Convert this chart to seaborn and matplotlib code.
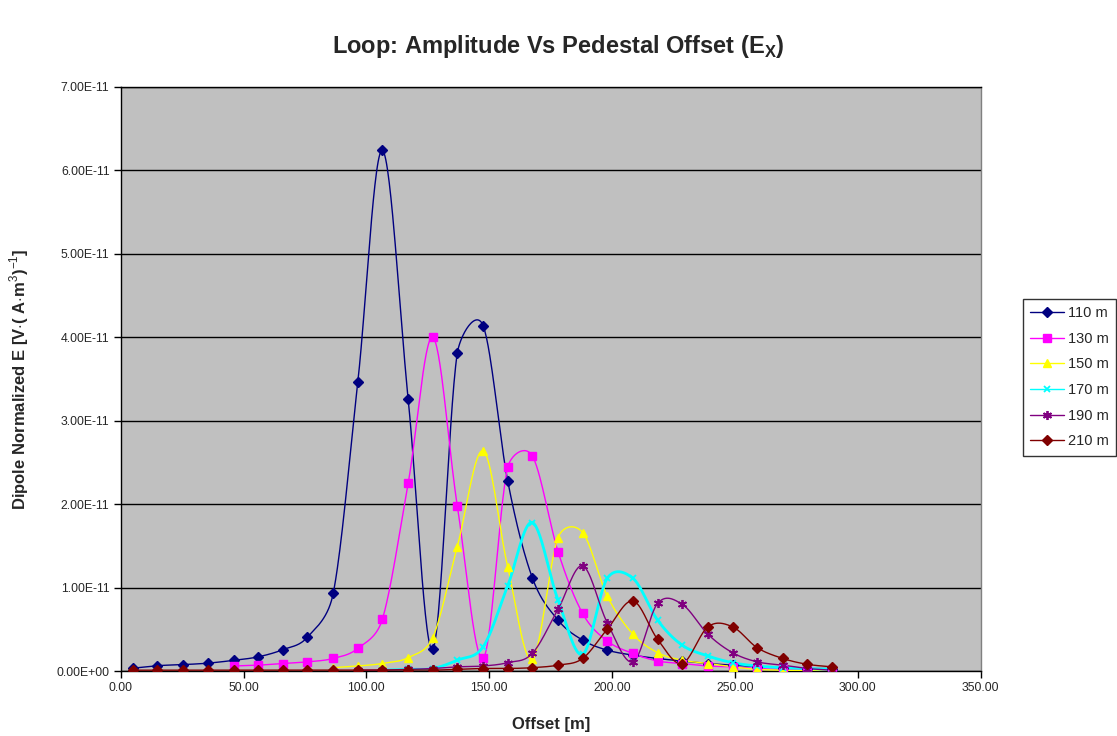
import numpy as np
import pandas as pd
import matplotlib
matplotlib.use("Agg")
import matplotlib.pyplot as plt
from matplotlib.lines import Line2D
from matplotlib.ticker import FuncFormatter, MultipleLocator
import seaborn as sns

nan = np.nan
SCALE = 1e-11

offsets = [5, 15, 25.5, 35.5, 46, 56, 66, 76, 86.5, 96.5, 106.5, 117, 127, 137, 147.5,
           157.5, 167.5, 178, 188, 198, 208.5, 218.5, 228.5, 239, 249, 259, 269.5, 279.5, 289.5]

e_110 = [0.034, 0.064, 0.077, 0.094, 0.128, 0.17, 0.256, 0.405, 0.93, 3.46, 6.24, 3.26, 0.26, 3.81, 4.14,
         2.28, 1.12, 0.61, 0.37, 0.25, 0.19, 0.15, 0.12, 0.09, 0.07, 0.05, 0.04, 0.03, 0.03]
e_130 = [nan, nan, nan, nan, 0.06, 0.07, 0.09, 0.11, 0.15, 0.27, 0.62, 2.25, 4.0, 1.98, 0.15,
         2.44, 2.58, 1.43, 0.69, 0.36, 0.21, 0.12, 0.09, 0.06, 0.05, 0.03, 0.02, 0.01, 0.01]
e_150 = [nan, nan, nan, nan, nan, nan, nan, nan, 0.04, 0.06, 0.09, 0.16, 0.40, 1.49, 2.64,
         1.25, 0.14, 1.60, 1.66, 0.90, 0.44, 0.22, 0.13, 0.09, 0.05, 0.02, 0.01, 0.005, 0.0]
e_170 = [nan, nan, nan, nan, nan, nan, nan, nan, nan, nan, 0.01, 0.02, 0.03, 0.13, 0.29,
         1.02, 1.78, 0.85, 0.20, 1.11, 1.11, 0.61, 0.31, 0.18, 0.10, 0.06, 0.04, 0.03, 0.02]
e_190 = [nan, nan, nan, nan, nan, nan, nan, nan, nan, 0.01, 0.01, 0.02, 0.03, 0.05, 0.06,
         0.10, 0.21, 0.74, 1.26, 0.58, 0.11, 0.81, 0.80, 0.44, 0.22, 0.11, 0.07, 0.03, 0.01]
e_210 = [0.01, 0.01, 0.01, 0.01, 0.01, 0.01, 0.01, 0.01, 0.01, 0.01, 0.01, 0.01, 0.01, 0.02, 0.03,
         0.03, 0.04, 0.07, 0.15, 0.50, 0.84, 0.38, 0.09, 0.53, 0.53, 0.28, 0.15, 0.08, 0.05]

series_labels = ["110 m", "130 m", "150 m", "170 m", "190 m", "210 m"]
series_values = [e_110, e_130, e_150, e_170, e_190, e_210]

colors = ["#000080", "#FF00FF", "#FFFF00", "#00FFFF", "#800080", "#800000"]
markers = ["D", "s", "^", "x", (6, 2, 0), "D"]
msizes = [5, 5.5, 6, 5, 6.5, 5.5]
lwidths = [1.0, 1.0, 1.0, 2.0, 1.0, 1.0]

AX_RECT = [0.108, 0.0883, 0.770, 0.7935]
FIG_W, FIG_H = 11.17, 7.36
X_MAX, Y_MAX = 350, 7e-11


def excel_smooth(x, y, sx, sy, n=30):
    """Excel-style smoothed line: cubic Bezier with tension 1/6, control arms capped in screen space."""
    P = np.column_stack([np.asarray(x) * sx, np.asarray(y) * sy])
    m = len(P)
    out = []
    t = np.linspace(0, 1, n, endpoint=False)[:, None]
    for i in range(m - 1):
        p0 = P[i - 1] if i > 0 else P[i]
        p1 = P[i]
        p2 = P[i + 1]
        p3 = P[i + 2] if i + 2 < m else P[i + 1]
        d02 = np.linalg.norm(p2 - p0)
        d12 = np.linalg.norm(p2 - p1)
        d13 = np.linalg.norm(p3 - p1)
        f0 = 1 / 6 if d02 / 6 < d12 / 2 else (d12 / 2 / d02 if d02 > 0 else 0)
        f1 = 1 / 6 if d13 / 6 < d12 / 2 else (d12 / 2 / d13 if d13 > 0 else 0)
        b1 = p1 + (p2 - p0) * f0
        b2 = p2 - (p3 - p1) * f1
        seg = ((1 - t) ** 3) * p1 + 3 * ((1 - t) ** 2) * t * b1 + 3 * (1 - t) * t ** 2 * b2 + t ** 3 * p2
        out.append(seg)
    out.append(P[-1:])
    S = np.vstack(out)
    return S[:, 0] / sx, S[:, 1] / sy


sns.set_style("white")
plt.rcParams["font.family"] = ["Liberation Sans", "DejaVu Sans"]
plt.rcParams["mathtext.fontset"] = "custom"
plt.rcParams["mathtext.rm"] = "Liberation Sans"
plt.rcParams["mathtext.bf"] = "Liberation Sans:bold"

fig = plt.figure(figsize=(FIG_W, FIG_H), dpi=100)
ax = fig.add_axes(AX_RECT)
ax.set_facecolor("#C0C0C0")

px_x = AX_RECT[2] * FIG_W * 100 / X_MAX
px_y = AX_RECT[3] * FIG_H * 100 / Y_MAX

x_arr = np.array(offsets, dtype=float)
handles = []
for lab, vals, c, mk, ms, lw in zip(series_labels, series_values, colors, markers, msizes, lwidths):
    y = np.array(vals, dtype=float) * SCALE
    ok = ~np.isnan(y)
    sxv, syv = excel_smooth(x_arr[ok], y[ok], px_x, px_y)
    df = pd.DataFrame({"x": sxv, "y": syv})
    sns.lineplot(data=df, x="x", y="y", ax=ax, color=c, lw=lw, sort=False, estimator=None,
                 legend=False, zorder=3)
    line_art = (mk == "x") or isinstance(mk, tuple)
    ax.plot(x_arr[ok], y[ok], ls="none", marker=mk, ms=ms, color=c, mec=c,
            mew=1.3 if line_art else 1.0, zorder=4)
    handles.append(Line2D([0], [0], color=c, lw=1.0, marker=mk, ms=ms, mec=c,
                          mew=1.3 if line_art else 1.0))

ax.set_xlim(0, X_MAX)
ax.set_ylim(0, Y_MAX)
ax.xaxis.set_major_locator(MultipleLocator(50))
ax.yaxis.set_major_locator(MultipleLocator(1e-11))
ax.xaxis.set_major_formatter(FuncFormatter(lambda v, p: f"{v:.2f}"))
ax.yaxis.set_major_formatter(FuncFormatter(lambda v, p: f"{v:.2E}"))
ax.yaxis.get_offset_text().set_visible(False)
ax.grid(axis="y", color="black", lw=1.0)
ax.grid(axis="x", visible=False)
ax.set_axisbelow(True)
for s in ["left", "bottom", "top"]:
    ax.spines[s].set_color("black")
    ax.spines[s].set_linewidth(1.0)
ax.spines["right"].set_color("#808080")
ax.spines["right"].set_linewidth(1.0)
ax.tick_params(axis="both", direction="out", length=5, width=1, color="black", pad=3,
               labelsize=8.8, left=True, bottom=True)

ax.set_xlabel("Offset [m]", fontsize=12, fontweight="bold", va="top")
ax.xaxis.set_label_coords(0.5, -0.078)
ax.set_ylabel(r"Dipole Normalized E [V$\cdot$( A$\cdot$m$^{3}$)$^{-1}$]", fontsize=12, fontweight="bold")
ax.yaxis.set_label_coords(-0.104, 0.5)
fig.suptitle(r"Loop: Amplitude Vs Pedestal Offset (E$_{\mathregular{X}}$)", fontsize=17,
             fontweight="bold", y=0.955)

leg = fig.legend(handles, series_labels, loc="upper left", bbox_to_anchor=(0.916, 0.594), frameon=True,
                 fancybox=False, edgecolor="black", facecolor="white", fontsize=10.5, handlelength=2.3,
                 labelspacing=0.8, borderpad=0.5, handletextpad=0.25, borderaxespad=0)
leg.get_frame().set_linewidth(1.0)

fig.savefig("out.png", dpi=100, facecolor="white")
